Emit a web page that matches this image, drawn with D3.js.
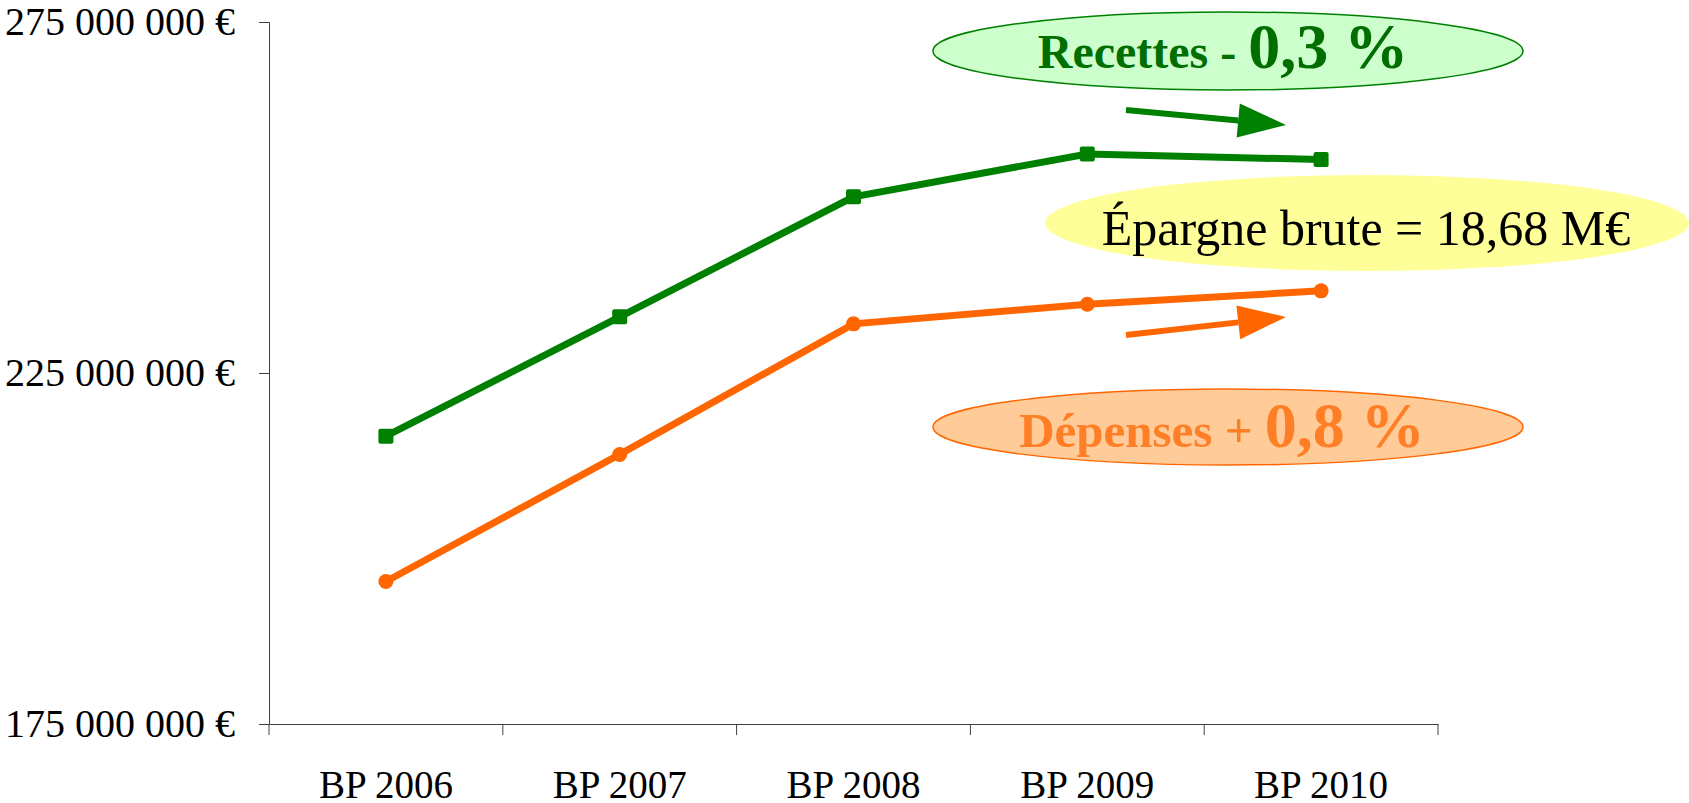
<!DOCTYPE html>
<html>
<head>
<meta charset="utf-8">
<script src="https://cdn.jsdelivr.net/npm/d3@7"></script>
<style>
  html, body { margin: 0; padding: 0; background: #fff; }
  svg text { font-family: "Liberation Serif", "DejaVu Serif", serif; }
</style>
</head>
<body>
<svg id="chart" width="1689" height="803"></svg>
<script>
// Data
var categories = ["BP 2006", "BP 2007", "BP 2008", "BP 2009", "BP 2010"];
var recettes = [216.0e6, 233.0e6, 250.1e6, 256.2e6, 255.4e6];
var depenses = [195.3e6, 213.4e6, 232.0e6, 234.8e6, 236.7e6];
var yTicks = [175e6, 225e6, 275e6];

var svg = d3.select("#chart");

// Scales
var x = d3.scaleBand()
  .domain(categories)
  .range([269, 1438])
  ;

var y = d3.scaleLinear()
  .domain([175e6, 275e6])
  .range([724, 22])
  ;

var fr = d3.formatLocale({
  decimal: ",",
  thousands: " ",
  grouping: [3],
  currency: ["", " €"]
});
var euro = fr.format("$,");

//** Axes **//

var yAxis = svg.append("g")
  .attr("transform", "translate(269,0)")
  .call(d3.axisLeft(y).tickValues(yTicks).tickFormat(euro).tickSize(10).tickPadding(24))
  ;
yAxis.attr("font-family", null);
yAxis.select(".domain").attr("stroke", "#404040");
yAxis.selectAll(".tick line").attr("stroke", "#404040");
yAxis.selectAll("text")
  .attr("font-size", 40)
  .attr("fill", "#000")
  ;

var xAxis = svg.append("g")
  .attr("transform", "translate(0,724)")
  .call(d3.axisBottom(x).tickSize(0).tickPadding(46))
  ;
xAxis.attr("font-family", null);
xAxis.select(".domain").attr("stroke", "#404040");
xAxis.selectAll("text")
  .attr("font-size", 39)
  .attr("fill", "#000")
  ;

// Tick marks between categories
var bounds = categories.map(function(c) { return x(c); }).concat([x.range()[1]]);
xAxis.selectAll("line.sep")
  .data(bounds)
  .enter().append("line")
  .attr("class", "sep")
  .attr("x1", function(d) { return d; })
  .attr("x2", function(d) { return d; })
  .attr("y1", 0)
  .attr("y2", 11)
  .attr("stroke", "#404040")
  ;

//** Lines **//

var cx = function(d, i) { return x(categories[i]) + x.bandwidth() / 2; };
var line = d3.line()
  .x(cx)
  .y(function(d) { return y(d); })
  ;

svg.append("path")
  .datum(recettes)
  .attr("d", line)
  .attr("fill", "none")
  .attr("stroke", "#008000")
  .attr("stroke-width", 7)
  ;

svg.selectAll("rect.rec")
  .data(recettes)
  .enter().append("rect")
  .attr("class", "rec")
  .attr("x", function(d, i) { return cx(d, i) - 7.5; })
  .attr("y", function(d) { return y(d) - 7.5; })
  .attr("width", 15)
  .attr("height", 15)
  .attr("rx", 2)
  .attr("fill", "#008000")
  ;

svg.append("path")
  .datum(depenses)
  .attr("d", line)
  .attr("fill", "none")
  .attr("stroke", "#ff6600")
  .attr("stroke-width", 7)
  ;

svg.selectAll("circle.dep")
  .data(depenses)
  .enter().append("circle")
  .attr("class", "dep")
  .attr("cx", cx)
  .attr("cy", function(d) { return y(d); })
  .attr("r", 7.5)
  .attr("fill", "#ff6600")
  ;

//** Annotations **//

function arrow(x1, y1, x2, y2, color) {
  var a = Math.atan2(y2 - y1, x2 - x1),
      len = 48, half = 17,
      bx = x2 - len * Math.cos(a), by = y2 - len * Math.sin(a);
  svg.append("line")
    .attr("x1", x1).attr("y1", y1)
    .attr("x2", bx).attr("y2", by)
    .attr("stroke", color)
    .attr("stroke-width", 6)
    ;
  svg.append("path")
    .attr("d", d3.line()([
      [x2, y2],
      [bx - half * Math.sin(a), by + half * Math.cos(a)],
      [bx + half * Math.sin(a), by - half * Math.cos(a)]
    ]) + "Z")
    .attr("fill", color)
    ;
}

arrow(1126, 110, 1286, 125, "#008000");
arrow(1126, 335, 1286, 317, "#ff6600");

// Recettes bubble
svg.append("ellipse")
  .attr("cx", 1228).attr("cy", 51)
  .attr("rx", 295).attr("ry", 39)
  .attr("fill", "#ccffcc")
  .attr("stroke", "#008000")
  .attr("stroke-width", 1.5)
  ;
var tRec = svg.append("text")
  .attr("x", 1223).attr("y", 68)
  .attr("text-anchor", "middle")
  .attr("fill", "#006f00")
  .attr("font-weight", "bold")
  ;
tRec.append("tspan").attr("font-size", 48).text("Recettes - ");
tRec.append("tspan").attr("font-size", 64).text("0,3 %");

// Epargne bubble
svg.append("ellipse")
  .attr("cx", 1367).attr("cy", 223)
  .attr("rx", 322).attr("ry", 48)
  .attr("fill", "#ffff99")
  ;
svg.append("text")
  .attr("x", 1366).attr("y", 245)
  .attr("text-anchor", "middle")
  .attr("font-size", 50)
  .attr("fill", "#000")
  .text("Épargne brute = 18,68 M€")
  ;

// Depenses bubble
svg.append("ellipse")
  .attr("cx", 1228).attr("cy", 427)
  .attr("rx", 295).attr("ry", 38)
  .attr("fill", "#ffcc99")
  .attr("stroke", "#ff6600")
  .attr("stroke-width", 1.5)
  ;
var tDep = svg.append("text")
  .attr("x", 1222).attr("y", 447)
  .attr("text-anchor", "middle")
  .attr("fill", "#ff7f27")
  .attr("font-weight", "bold")
  ;
tDep.append("tspan").attr("font-size", 49).text("Dépenses + ");
tDep.append("tspan").attr("font-size", 64).text("0,8 %");
</script>
</body>
</html>
